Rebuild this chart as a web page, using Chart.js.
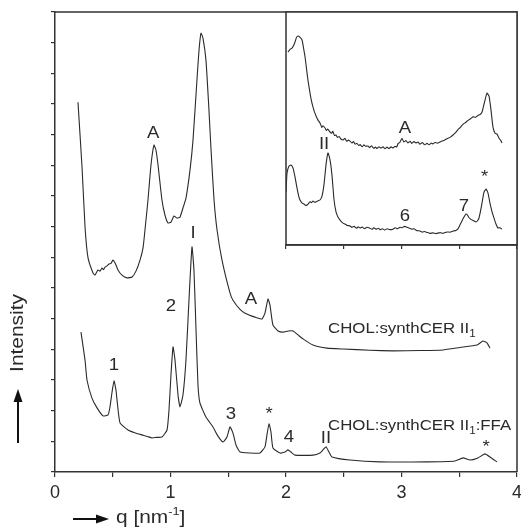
<!DOCTYPE html>
<html>
<head>
<title>SAXS profiles</title>
<script src="https://cdn.jsdelivr.net/npm/chart.js"></script>
<style>
  body { margin: 0; background: #fff; }
  #wrap { position: relative; width: 521px; height: 527px; }
  #main { position: absolute; left: 0; top: 0; }
  #inset { position: absolute; left: 284px; top: 10px; }
</style>
</head>
<body>
<div id="wrap">
  <canvas id="main" width="521" height="527"></canvas>
  <canvas id="inset" width="235" height="242"></canvas>
</div>
<script>
// q in nm^-1, intensity in arbitrary (offset) units
const upperQ = [0.199, 0.234, 0.260, 0.286, 0.329, 0.346, 0.372, 0.390, 0.407, 0.420, 0.433, 0.450, 0.468, 0.485, 0.502, 0.515, 0.528, 0.545, 0.580, 0.623, 0.667, 0.701, 0.736, 0.762, 0.779, 0.805, 0.831, 0.857, 0.874, 0.892, 0.926, 0.952, 0.978, 1.004, 1.030, 1.056, 1.082, 1.108, 1.134, 1.169, 1.195, 1.229, 1.247, 1.264, 1.281, 1.307, 1.333, 1.351, 1.377, 1.403, 1.446, 1.515, 1.541, 1.602, 1.645, 1.732, 1.792, 1.818, 1.844, 1.861, 1.887, 1.931, 1.974, 2.017, 2.061, 2.104, 2.147, 2.234, 2.355, 2.494, 2.727, 2.926, 3.160, 3.359, 3.506, 3.654, 3.706, 3.740, 3.766];
const upperI = [12.06, 9.94, 7.99, 6.98, 6.49, 6.42, 6.59, 6.55, 6.65, 6.60, 6.68, 6.72, 6.78, 6.80, 6.91, 6.85, 6.75, 6.59, 6.42, 6.33, 6.36, 6.55, 6.91, 7.30, 7.89, 8.87, 10.01, 10.66, 10.50, 10.01, 8.87, 8.38, 8.12, 8.15, 8.35, 8.28, 8.31, 8.61, 8.93, 9.85, 10.83, 12.78, 13.76, 14.31, 14.15, 13.43, 11.80, 10.50, 8.87, 7.89, 6.91, 5.84, 5.60, 5.30, 5.18, 5.05, 4.99, 5.18, 5.64, 5.45, 4.79, 4.60, 4.56, 4.60, 4.60, 4.47, 4.34, 4.14, 4.04, 4.01, 3.97, 3.95, 3.96, 3.98, 4.06, 4.14, 4.27, 4.21, 4.04];

const lowerQ = [0.225, 0.260, 0.277, 0.320, 0.364, 0.416, 0.459, 0.476, 0.494, 0.511, 0.528, 0.537, 0.563, 0.632, 0.690, 0.753, 0.800, 0.840, 0.880, 0.926, 0.970, 0.987, 1.004, 1.022, 1.039, 1.065, 1.082, 1.108, 1.134, 1.160, 1.186, 1.203, 1.221, 1.238, 1.255, 1.307, 1.368, 1.411, 1.455, 1.489, 1.515, 1.541, 1.567, 1.602, 1.688, 1.775, 1.818, 1.835, 1.853, 1.870, 1.887, 1.948, 1.991, 2.017, 2.043, 2.078, 2.234, 2.294, 2.320, 2.346, 2.372, 2.398, 2.554, 2.814, 3.221, 3.463, 3.532, 3.593, 3.662, 3.723, 3.766, 3.827];
const lowerI = [4.56, 3.65, 3.00, 2.41, 2.09, 1.83, 1.86, 2.12, 2.61, 2.97, 2.67, 2.35, 1.60, 1.37, 1.28, 1.21, 1.16, 1.11, 1.13, 1.14, 1.37, 2.02, 3.16, 4.08, 3.65, 2.51, 2.12, 2.51, 3.65, 5.61, 7.34, 6.59, 4.63, 2.84, 2.25, 1.79, 1.47, 1.17, 0.98, 1.14, 1.47, 1.27, 0.88, 0.65, 0.62, 0.62, 0.82, 1.21, 1.57, 1.30, 0.78, 0.62, 0.65, 0.72, 0.65, 0.55, 0.55, 0.62, 0.72, 0.82, 0.65, 0.49, 0.39, 0.33, 0.33, 0.36, 0.46, 0.39, 0.46, 0.59, 0.49, 0.33];

// inset (magnified q range 2-4)
const insetTopQ = [2.017, 2.035, 2.052, 2.065, 2.078, 2.090, 2.104, 2.120, 2.139, 2.152, 2.165, 2.178, 2.190, 2.208, 2.220, 2.234, 2.247, 2.260, 2.277, 2.294, 2.310, 2.320, 2.338, 2.350, 2.360, 2.381, 2.395, 2.405, 2.420, 2.433, 2.445, 2.460, 2.475, 2.494, 2.510, 2.525, 2.540, 2.554, 2.570, 2.585, 2.597, 2.615, 2.630, 2.641, 2.660, 2.675, 2.690, 2.710, 2.725, 2.740, 2.760, 2.775, 2.788, 2.805, 2.820, 2.840, 2.857, 2.875, 2.890, 2.910, 2.926, 2.945, 2.958, 2.970, 2.985, 3.004, 3.020, 3.039, 3.055, 3.074, 3.090, 3.108, 3.125, 3.143, 3.160, 3.180, 3.200, 3.221, 3.240, 3.258, 3.273, 3.290, 3.310, 3.333, 3.350, 3.372, 3.394, 3.420, 3.446, 3.468, 3.489, 3.510, 3.532, 3.555, 3.576, 3.598, 3.619, 3.640, 3.662, 3.680, 3.697, 3.710, 3.723, 3.740, 3.758, 3.775, 3.792, 3.810, 3.827, 3.845, 3.860, 3.870];
const insetTopI = [8.28, 8.40, 8.45, 8.55, 8.71, 8.90, 8.97, 8.92, 8.80, 8.45, 8.07, 7.55, 7.08, 6.52, 6.20, 5.92, 5.70, 5.54, 5.36, 5.24, 5.05, 5.12, 5.02, 4.92, 4.98, 4.85, 4.80, 4.88, 4.70, 4.72, 4.62, 4.66, 4.55, 4.51, 4.58, 4.45, 4.50, 4.46, 4.38, 4.44, 4.33, 4.36, 4.27, 4.31, 4.22, 4.30, 4.24, 4.25, 4.18, 4.26, 4.15, 4.20, 4.14, 4.22, 4.16, 4.21, 4.13, 4.20, 4.14, 4.21, 4.16, 4.24, 4.20, 4.35, 4.40, 4.58, 4.42, 4.48, 4.38, 4.45, 4.36, 4.44, 4.38, 4.42, 4.33, 4.40, 4.30, 4.36, 4.30, 4.38, 4.34, 4.40, 4.37, 4.42, 4.46, 4.50, 4.56, 4.62, 4.72, 4.82, 4.95, 5.05, 5.18, 5.26, 5.35, 5.42, 5.50, 5.48, 5.56, 5.60, 5.70, 5.95, 6.22, 6.52, 6.39, 5.79, 5.06, 4.80, 4.76, 4.58, 4.48, 4.38];

const insetBotQ = [2.000, 2.009, 2.026, 2.043, 2.061, 2.078, 2.095, 2.110, 2.121, 2.140, 2.156, 2.170, 2.182, 2.195, 2.208, 2.220, 2.234, 2.247, 2.260, 2.280, 2.294, 2.312, 2.329, 2.346, 2.364, 2.381, 2.398, 2.416, 2.433, 2.450, 2.468, 2.490, 2.511, 2.530, 2.554, 2.570, 2.590, 2.610, 2.625, 2.641, 2.660, 2.680, 2.700, 2.727, 2.745, 2.760, 2.780, 2.800, 2.814, 2.835, 2.855, 2.875, 2.900, 2.926, 2.945, 2.965, 2.987, 3.005, 3.025, 3.048, 3.070, 3.090, 3.108, 3.130, 3.160, 3.180, 3.200, 3.221, 3.245, 3.273, 3.300, 3.333, 3.360, 3.394, 3.420, 3.446, 3.470, 3.489, 3.505, 3.520, 3.541, 3.558, 3.572, 3.584, 3.600, 3.620, 3.645, 3.660, 3.671, 3.684, 3.697, 3.714, 3.732, 3.749, 3.766, 3.780, 3.792, 3.818, 3.835, 3.850, 3.870];
const insetBotI = [2.27, 3.09, 3.39, 3.43, 3.30, 2.92, 2.45, 2.10, 1.93, 1.80, 1.76, 1.70, 1.72, 1.78, 1.86, 1.82, 1.89, 1.84, 1.85, 1.90, 1.93, 2.10, 2.60, 3.43, 3.95, 3.65, 3.00, 1.93, 1.42, 1.20, 1.07, 0.95, 0.90, 0.84, 0.82, 0.76, 0.80, 0.72, 0.78, 0.73, 0.77, 0.70, 0.76, 0.72, 0.67, 0.74, 0.68, 0.72, 0.66, 0.70, 0.64, 0.70, 0.66, 0.68, 0.74, 0.70, 0.76, 0.74, 0.80, 0.76, 0.72, 0.68, 0.70, 0.62, 0.60, 0.55, 0.58, 0.54, 0.50, 0.52, 0.49, 0.53, 0.50, 0.56, 0.55, 0.60, 0.62, 0.69, 0.85, 1.00, 1.20, 1.33, 1.28, 1.18, 1.10, 1.05, 0.99, 1.05, 1.16, 1.45, 1.80, 2.27, 2.40, 2.23, 1.80, 1.50, 1.29, 0.90, 0.73, 0.74, 0.69];

// peak annotations (text baseline position in data units)
const peakText = ['A', 'I', '2', '1', 'A', '3', '*', '4', 'II', '*'];
const peakQ = [0.85, 1.195, 1.004, 0.511, 1.697, 1.524, 1.853, 2.026, 2.346, 3.732];
const peakI = [10.89, 7.63, 5.25, 3.33, 5.48, 1.73, 1.73, 0.98, 0.95, 0.65];

const insetText = ['A', 'II', '6', '7', '*'];
const insetTQ = [3.03, 2.33, 3.03, 3.54, 3.72];
const insetTI = [4.81, 4.12, 1.03, 1.46, 2.70];

const sampleNames = ['CHOL:synthCER II', 'CHOL:synthCER II'];
const sampleTail = ['', ':FFA'];
const sampleQ = [2.364, 2.364];
const sampleI = [4.53, 1.37];

const FONT = '"Liberation Sans", Arial, sans-serif';
const INK = '#2a2a2a';
const SX = 1.16; // the original lettering is a little wide

function toPts(qs, is) {
  return qs.map((q, i) => ({ x: q, y: is[i] }));
}

function wideText(ctx, txt, px, py, size, align) {
  ctx.save();
  ctx.font = size + 'px ' + FONT;
  const w = ctx.measureText(txt).width * SX;
  const left = align === 'center' ? px - w / 2 : px;
  ctx.translate(left, py);
  ctx.scale(SX, 1);
  ctx.textAlign = 'left';
  ctx.textBaseline = 'alphabetic';
  ctx.fillText(txt, 0, 0);
  ctx.restore();
  return w;
}

function arrowHead(ctx, tipX, tipY, dir) {
  // dir: 'up' or 'right'
  ctx.beginPath();
  if (dir === 'up') {
    ctx.moveTo(tipX, tipY);
    ctx.lineTo(tipX - 4.5, tipY + 13);
    ctx.lineTo(tipX + 4.5, tipY + 13);
  } else {
    ctx.moveTo(tipX, tipY);
    ctx.lineTo(tipX - 13, tipY - 4.5);
    ctx.lineTo(tipX - 13, tipY + 4.5);
  }
  ctx.closePath();
  ctx.fill();
}

const mainDecor = {
  id: 'mainDecor',
  afterDraw(chart) {
    const { ctx, chartArea: a } = chart;
    const x = chart.scales.x, y = chart.scales.y;
    ctx.save();
    // frame top / right
    ctx.strokeStyle = '#333';
    ctx.lineWidth = 1.5;
    ctx.beginPath();
    ctx.moveTo(a.left, a.top);
    ctx.lineTo(a.right, a.top);
    ctx.lineTo(a.right, a.bottom);
    ctx.stroke();

    ctx.fillStyle = INK;
    peakText.forEach((t, i) => {
      wideText(ctx, t, x.getPixelForValue(peakQ[i]), y.getPixelForValue(peakI[i]), 16, 'center');
    });

    sampleNames.forEach((t, i) => {
      let px = x.getPixelForValue(sampleQ[i]);
      const py = y.getPixelForValue(sampleI[i]);
      px += wideText(ctx, t, px, py, 14.5, 'left');
      px += wideText(ctx, '1', px, py + 4, 10, 'left');
      if (sampleTail[i]) wideText(ctx, sampleTail[i], px, py, 14.5, 'left');
    });

    // y title with arrow
    ctx.strokeStyle = '#111';
    ctx.fillStyle = '#111';
    ctx.lineWidth = 2;
    ctx.beginPath();
    ctx.moveTo(18, 443);
    ctx.lineTo(18, 400);
    ctx.stroke();
    arrowHead(ctx, 18, 389, 'up');
    ctx.save();
    ctx.translate(23, 333);
    ctx.rotate(-Math.PI / 2);
    ctx.fillStyle = INK;
    wideText(ctx, 'Intensity', 0, 0, 18, 'center');
    ctx.restore();

    // x title with arrow
    ctx.beginPath();
    ctx.moveTo(73, 519);
    ctx.lineTo(98, 519);
    ctx.stroke();
    arrowHead(ctx, 109, 519, 'right');
    ctx.fillStyle = INK;
    let tx = 116;
    tx += wideText(ctx, 'q [nm', tx, 523, 18, 'left');
    tx += wideText(ctx, '-1', tx, 515, 11, 'left');
    wideText(ctx, ']', tx, 523, 18, 'left');
    ctx.restore();
  }
};

const insetDecor = {
  id: 'insetDecor',
  beforeDraw(chart) {
    const { ctx, chartArea: a } = chart;
    ctx.save();
    ctx.fillStyle = '#fff';
    ctx.fillRect(a.left, a.top, a.right - a.left, a.bottom - a.top);
    ctx.restore();
  },
  afterDraw(chart) {
    const { ctx, chartArea: a } = chart;
    const x = chart.scales.x, y = chart.scales.y;
    ctx.save();
    ctx.strokeStyle = '#333';
    ctx.lineWidth = 1.5;
    ctx.strokeRect(a.left, a.top, a.right - a.left, a.bottom - a.top);
    ctx.fillStyle = INK;
    insetText.forEach((t, i) => {
      wideText(ctx, t, x.getPixelForValue(insetTQ[i]), y.getPixelForValue(insetTI[i]), 16, 'center');
    });
    ctx.restore();
  }
};

const lineStyle = { borderColor: INK, borderWidth: 1.1, pointRadius: 0, tension: 0.15, fill: false };
const tickGrid = { drawOnChartArea: false, drawTicks: true, tickLength: 5, color: '#333', lineWidth: 1.2 };

new Chart(document.getElementById('main'), {
  type: 'line',
  data: {
    datasets: [
      Object.assign({ label: 'CHOL:synthCER II1', data: toPts(upperQ, upperI) }, lineStyle),
      Object.assign({ label: 'CHOL:synthCER II1:FFA', data: toPts(lowerQ, lowerI) }, lineStyle)
    ]
  },
  options: {
    responsive: false,
    animation: false,
    layout: { padding: { top: 12, right: 4, left: 0, bottom: 0 } },
    plugins: { legend: { display: false }, tooltip: { enabled: false } },
    scales: {
      x: {
        type: 'linear', min: 0, max: 4,
        ticks: {
          stepSize: 0.5, autoSkip: false, maxRotation: 0, padding: 5, color: INK,
          font: { size: 18, family: FONT },
          callback: v => Number.isInteger(v) ? String(v) : ''
        },
        grid: tickGrid,
        border: { color: '#333', width: 1.5 },
        afterFit: s => { s.height = 55; s.paddingLeft = 0; s.paddingRight = 0; }
      },
      y: {
        min: 0, max: 15,
        ticks: { stepSize: 1, callback: () => '' },
        grid: Object.assign({}, tickGrid, { tickLength: 4 }),
        border: { color: '#333', width: 1.5 },
        afterFit: s => { s.width = 55; }
      }
    }
  },
  plugins: [mainDecor]
});

new Chart(document.getElementById('inset'), {
  type: 'line',
  data: {
    datasets: [
      Object.assign({ label: 'II1 (2-4)', data: toPts(insetTopQ, insetTopI) }, lineStyle),
      Object.assign({ label: 'II1:FFA (2-4)', data: toPts(insetBotQ, insetBotI) }, lineStyle)
    ]
  },
  options: {
    responsive: false,
    animation: false,
    layout: { padding: { top: 2, right: 2, left: 2, bottom: 0 } },
    plugins: { legend: { display: false }, tooltip: { enabled: false } },
    scales: {
      x: {
        type: 'linear', min: 2, max: 4,
        ticks: { stepSize: 0.5, autoSkip: false, callback: () => '' },
        grid: Object.assign({}, tickGrid, { tickLength: 4 }),
        border: { color: '#333', width: 1.5 },
        afterFit: s => { s.height = 7; s.paddingLeft = 0; s.paddingRight = 0; }
      },
      y: { display: false, min: 0, max: 10 }
    }
  },
  plugins: [insetDecor]
});
</script>
</body>
</html>
